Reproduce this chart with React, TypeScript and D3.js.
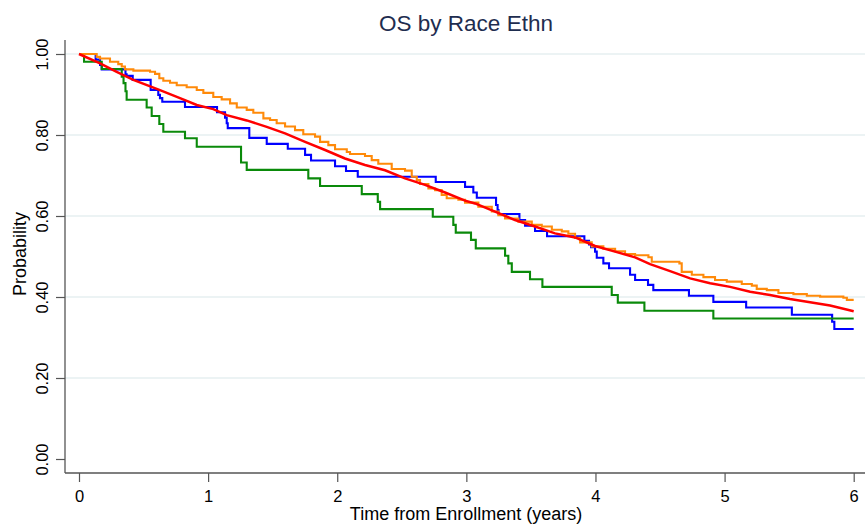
import React, { useEffect, useRef } from 'react'
import * as d3 from 'd3'

// tick values
const xTicks = [0, 1, 2, 3, 4, 5, 6]
const yTicks = [0, 0.2, 0.4, 0.6, 0.8, 1]

// Kaplan-Meier step curves (time in years, survival probability)
const blueTime = [0, 0.129, 0.163, 0.176, 0.360, 0.369, 0.416, 0.555, 0.614, 0.627, 0.645, 0.821, 1.069, 1.131, 1.144, 1.152, 1.319, 1.454, 1.617, 1.751, 1.797, 1.983, 2.068, 2.159, 2.763, 2.990, 3.054, 3.081, 3.230, 3.242, 3.249, 3.411, 3.455, 3.532, 3.625, 3.914, 3.950, 3.966, 3.997, 4.010, 4.061, 4.105, 4.268, 4.307, 4.407, 4.448, 4.724, 4.913, 5.167, 5.521, 5.833, 5.850, 6.0]
const blueSurv = [1, 0.986, 0.973, 0.962, 0.950, 0.946, 0.936, 0.911, 0.899, 0.891, 0.882, 0.869, 0.856, 0.843, 0.829, 0.817, 0.793, 0.778, 0.766, 0.751, 0.737, 0.723, 0.711, 0.697, 0.684, 0.672, 0.658, 0.645, 0.627, 0.615, 0.605, 0.590, 0.576, 0.563, 0.550, 0.539, 0.530, 0.523, 0.512, 0.497, 0.483, 0.471, 0.455, 0.442, 0.430, 0.417, 0.403, 0.388, 0.374, 0.356, 0.339, 0.321, 0.321]

const greenTime = [0, 0.039, 0.176, 0.331, 0.345, 0.360, 0.369, 0.524, 0.563, 0.622, 0.653, 0.821, 0.912, 1.255, 1.299, 1.776, 1.867, 2.190, 2.314, 2.332, 2.740, 2.899, 2.918, 3.036, 3.073, 3.300, 3.325, 3.352, 3.493, 3.589, 4.126, 4.173, 4.379, 4.913, 6.0]
const greenSurv = [1, 0.981, 0.963, 0.944, 0.928, 0.908, 0.887, 0.868, 0.847, 0.827, 0.808, 0.792, 0.771, 0.732, 0.714, 0.693, 0.674, 0.654, 0.635, 0.617, 0.598, 0.578, 0.559, 0.541, 0.520, 0.502, 0.483, 0.462, 0.444, 0.425, 0.405, 0.386, 0.366, 0.347, 0.347]

const orangeTime = [0, 0.137, 0.163, 0.240, 0.304, 0.331, 0.356, 0.421, 0.550, 0.589, 0.622, 0.653, 0.705, 0.757, 0.834, 0.912, 0.963, 1.040, 1.105, 1.170, 1.222, 1.299, 1.350, 1.428, 1.480, 1.531, 1.596, 1.673, 1.737, 1.828, 1.867, 1.931, 1.983, 2.074, 2.099, 2.215, 2.267, 2.318, 2.422, 2.525, 2.577, 2.616, 2.641, 2.706, 2.758, 2.809, 2.848, 2.938, 2.990, 3.093, 3.197, 3.248, 3.300, 3.403, 3.507, 3.584, 3.662, 3.739, 3.790, 3.842, 3.881, 3.971, 4.061, 4.152, 4.229, 4.307, 4.410, 4.436, 4.650, 4.668, 4.746, 4.836, 4.926, 5.017, 5.133, 5.211, 5.249, 5.327, 5.417, 5.533, 5.637, 5.740, 5.920, 5.947, 6.0]
const orangeSurv = [1, 0.993, 0.989, 0.981, 0.975, 0.969, 0.962, 0.959, 0.956, 0.951, 0.940, 0.934, 0.929, 0.923, 0.918, 0.911, 0.904, 0.894, 0.888, 0.878, 0.868, 0.862, 0.855, 0.841, 0.837, 0.829, 0.821, 0.812, 0.802, 0.796, 0.783, 0.775, 0.765, 0.758, 0.753, 0.748, 0.738, 0.729, 0.716, 0.712, 0.697, 0.689, 0.679, 0.668, 0.664, 0.652, 0.644, 0.640, 0.633, 0.623, 0.611, 0.602, 0.594, 0.586, 0.578, 0.574, 0.566, 0.562, 0.556, 0.546, 0.535, 0.525, 0.519, 0.513, 0.506, 0.503, 0.498, 0.487, 0.483, 0.462, 0.455, 0.449, 0.442, 0.438, 0.432, 0.428, 0.420, 0.417, 0.410, 0.407, 0.403, 0.401, 0.398, 0.393, 0.393]

// overall curve (many events, drawn as a line through read points)
const redTime = [0, 0.163, 0.292, 0.421, 0.627, 0.782, 0.912, 1.040, 1.144, 1.299, 1.454, 1.596, 1.751, 1.906, 2.060, 2.215, 2.370, 2.525, 2.680, 2.835, 2.990, 3.067, 3.222, 3.377, 3.532, 3.687, 3.842, 3.997, 4.152, 4.307, 4.423, 4.578, 4.733, 4.888, 5.043, 5.198, 5.352, 5.507, 5.662, 5.817, 6.0]
const redSurv = [1, 0.977, 0.956, 0.936, 0.911, 0.891, 0.874, 0.864, 0.849, 0.836, 0.820, 0.804, 0.783, 0.763, 0.742, 0.726, 0.713, 0.693, 0.677, 0.658, 0.638, 0.631, 0.611, 0.590, 0.574, 0.557, 0.547, 0.526, 0.512, 0.498, 0.481, 0.464, 0.446, 0.434, 0.425, 0.413, 0.405, 0.395, 0.387, 0.379, 0.365]

const font = '"Liberation Sans", Arial, sans-serif'

export default function App() {
    const ref = useRef<SVGSVGElement>(null)

    useEffect(() => {
        const width = 865
        const height = 526
        const svg = d3.select(ref.current)
        svg.selectAll('*').remove()
        svg.attr('width', width).attr('height', height)

        const x = d3.scaleLinear().domain([0, 6]).range([79, 853.7])
        const y = d3.scaleLinear().domain([0, 1]).range([459, 54])
        const axisX = 65
        const axisY = 473

        /* grid */
        svg.append('g')
            .selectAll('line')
            .data(yTicks.filter((d) => d > 0))
            .enter()
            .append('line')
            .attr('x1', axisX)
            .attr('x2', width)
            .attr('y1', (d) => y(d))
            .attr('y2', (d) => y(d))
            .attr('stroke', '#e6eff1')
            .attr('stroke-width', 1.6)

        /* Y axis */
        const yAxis = d3.axisLeft(y)
            .tickValues(yTicks)
            .tickSize(9)
            .tickFormat(d3.format('.2f'))
        const gy = svg.append('g').attr('transform', `translate(${axisX},0)`).call(yAxis)
        gy.select('.domain').remove()
        gy.selectAll('.tick line').attr('stroke', '#555').attr('stroke-width', 1.2)
        gy.selectAll('.tick text')
            .attr('x', null)
            .attr('dy', null)
            .attr('transform', 'translate(-17,0) rotate(-90)')
            .attr('text-anchor', 'middle')
            .attr('font-size', 16.5)
            .attr('font-family', font)
            .attr('fill', '#000')

        /* X axis */
        const xAxis = d3.axisBottom(x)
            .tickValues(xTicks)
            .tickSize(9)
            .tickFormat(d3.format('d'))
        const gx = svg.append('g').attr('transform', `translate(0,${axisY})`).call(xAxis)
        gx.select('.domain').remove()
        gx.selectAll('.tick line').attr('stroke', '#555').attr('stroke-width', 1.2)
        gx.selectAll('.tick text')
            .attr('y', 29)
            .attr('dy', null)
            .attr('font-size', 16.5)
            .attr('font-family', font)
            .attr('fill', '#000')

        /* axis lines */
        svg.append('line')
            .attr('x1', axisX).attr('x2', axisX)
            .attr('y1', 40).attr('y2', axisY)
            .attr('stroke', '#555').attr('stroke-width', 1.3)
        svg.append('line')
            .attr('x1', axisX).attr('x2', width)
            .attr('y1', axisY).attr('y2', axisY)
            .attr('stroke', '#555').attr('stroke-width', 1.3)

        /* curves */
        const series = [
            { time: blueTime, surv: blueSurv, color: '#0000ff', w: 2.1, step: true },
            { time: greenTime, surv: greenSurv, color: '#0a8a0a', w: 2.1, step: true },
            { time: orangeTime, surv: orangeSurv, color: '#ff8a0a', w: 2.1, step: true },
            { time: redTime, surv: redSurv, color: '#ff0000', w: 2.5, step: false },
        ]
        series.forEach((s) => {
            const pts: [number, number][] = s.time.map((t, i) => [t, s.surv[i]])
            const line = d3.line<[number, number]>()
                .x((d) => x(d[0]))
                .y((d) => y(d[1]))
                .curve(s.step ? d3.curveStepAfter : d3.curveLinear)
            svg.append('path')
                .attr('d', line(pts))
                .attr('fill', 'none')
                .attr('stroke', s.color)
                .attr('stroke-width', s.w)
                .attr('stroke-linejoin', 'miter')
        })

        /* titles */
        svg.append('text')
            .attr('x', 466).attr('y', 31)
            .attr('text-anchor', 'middle')
            .attr('font-size', 22.5)
            .attr('font-family', font)
            .attr('fill', '#1e2d4f')
            .text('OS by Race Ethn')

        svg.append('text')
            .attr('x', 466).attr('y', 520)
            .attr('text-anchor', 'middle')
            .attr('font-size', 18)
            .attr('font-family', font)
            .attr('fill', '#000')
            .text('Time from Enrollment (years)')

        svg.append('text')
            .attr('transform', 'translate(25.5,254) rotate(-90)')
            .attr('text-anchor', 'middle')
            .attr('font-size', 18)
            .attr('font-family', font)
            .attr('fill', '#000')
            .text('Probability')
    }, [])

    return (
        <div style={{ position: 'absolute', left: 0, top: 0, background: '#fff' }}>
            <svg ref={ref} style={{ display: 'block' }}></svg>
        </div>
    )
}
